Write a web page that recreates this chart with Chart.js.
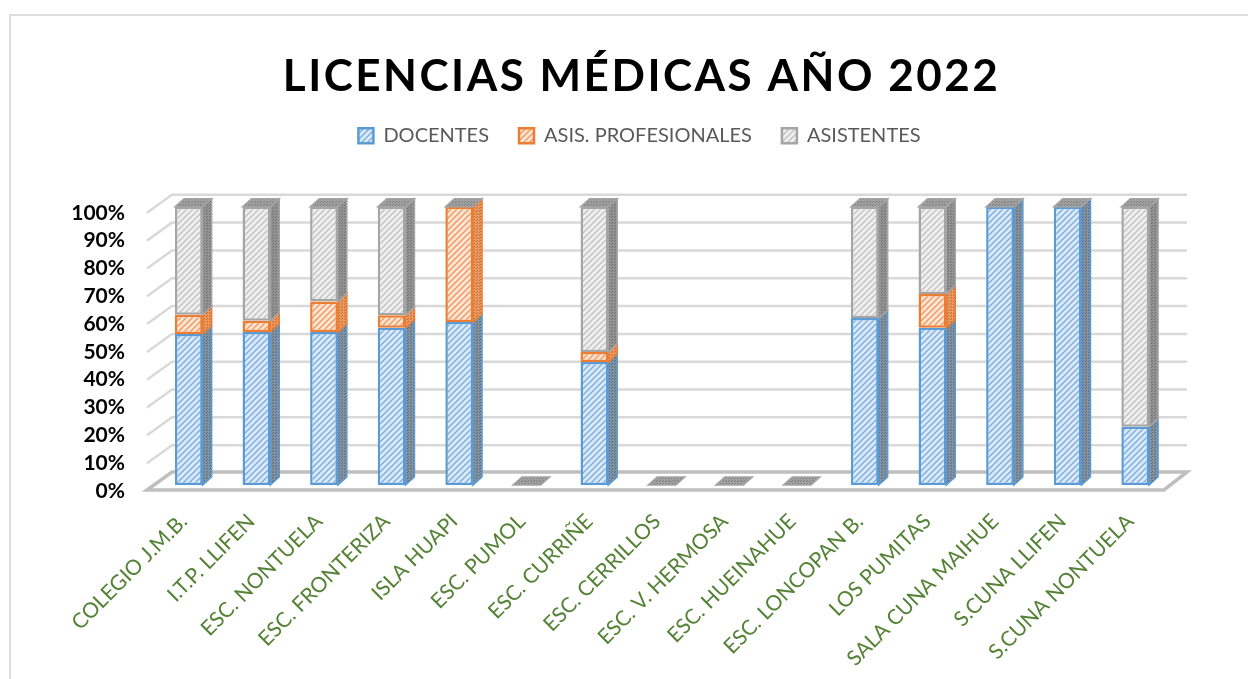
<!DOCTYPE html>
<html>
<head>
<meta charset="utf-8">
<title>Licencias médicas</title>
<script src="https://cdn.jsdelivr.net/npm/chart.js@4"></script>
<style>
  html, body { margin: 0; background: #fff; overflow: hidden; }
  #wrap { position: relative; width: 1248px; height: 679px; }
  #frame { position: absolute; left: 9px; top: 14px; width: 1300px; height: 700px; border: 2px solid #dedede; }
  canvas { position: absolute; left: 0; top: 0; }
</style>
</head>
<body>
<div id="wrap">
  <div id="frame"></div>
  <canvas id="licChart" width="1248" height="679"></canvas>
</div>
<script>
const categories = ["COLEGIO J.M.B.", "I.T.P. LLIFEN", "ESC. NONTUELA", "ESC. FRONTERIZA", "ISLA HUAPI", "ESC. PUMOL", "ESC. CURRIÑE", "ESC. CERRILLOS", "ESC. V. HERMOSA", "ESC. HUEINAHUE", "ESC. LONCOPAN B.", "LOS PUMITAS", "SALA CUNA MAIHUE", "S.CUNA LLIFEN", "S.CUNA NONTUELA"];
const docentes = [54.3, 55, 55, 56.5, 58.6, 0, 44.2, 0, 0, 0, 60, 56.5, 100, 100, 20.9];
const profesionales = [6.9, 4, 11, 4.5, 41.4, 0, 3.6, 0, 0, 0, 0, 12.2, 0, 0, 0];
const asistentes = [38.8, 41, 34, 39, 0, 0, 52.2, 0, 0, 0, 40, 31.3, 0, 0, 79.1];
const tickValues = [0, 10, 20, 30, 40, 50, 60, 70, 80, 90, 100];

const BLUE = "#5b9bd5", ORANGE = "#ed7d31", GREY = "#a5a5a5";
const DEPTH_X = 9, DEPTH_Y = 8;

// wide upward diagonal hatch, like the office pattern fills
function hatch(fg, bg) {
    const c = document.createElement("canvas");
    c.width = c.height = 6;
    const g = c.getContext("2d");
    g.fillStyle = bg;
    g.fillRect(0, 0, 6, 6);
    g.strokeStyle = fg;
    g.lineWidth = 1.5;
    [[-1, 1, 1, -1], [-1, 7, 7, -1], [5, 7, 7, 5]].forEach(function(l) {
        g.beginPath();
        g.moveTo(l[0], l[1]);
        g.lineTo(l[2], l[3]);
        g.stroke();
    });
    return g.createPattern(c, "repeat");
}

// dark dotted fill for the side and top faces
function dots(fg, bg) {
    const c = document.createElement("canvas");
    c.width = c.height = 3;
    const g = c.getContext("2d");
    g.fillStyle = bg;
    g.fillRect(0, 0, 3, 3);
    g.fillStyle = fg;
    g.fillRect(0, 0, 1, 1);
    g.fillRect(2, 1, 1, 1);
    return g.createPattern(c, "repeat");
}

const sideFills = [dots("#566a7e", "#84939f"), dots("#c2672a", "#eb9a63"), dots("#6f6f6f", "#949494")];
const capFill = dots("#7d7d7d", "#a0a0a0");

function face(ctx, pts, fill, stroke) {
    ctx.beginPath();
    pts.forEach(function(p, i) {
        if (i === 0) ctx.moveTo(p[0], p[1]);
        else ctx.lineTo(p[0], p[1]);
    });
    ctx.closePath();
    ctx.fillStyle = fill;
    ctx.fill();
    ctx.lineWidth = 1.5;
    ctx.strokeStyle = stroke;
    ctx.stroke();
}

// back wall, floor and slanted gridlines
const wallPlugin = {
    id: "wall",
    beforeDatasetsDraw(chart) {
        const ctx = chart.ctx;
        const y = chart.scales.y, a = chart.chartArea;
        const l0 = a.left - 8, l1 = a.left + 17, r1 = a.right + 18;
        ctx.save();
        tickValues.forEach(function(v) {
            if (v === 0) return;
            const p = y.getPixelForValue(v);
            ctx.strokeStyle = "#d9d9d9";
            ctx.lineWidth = 2.5;
            ctx.beginPath();
            ctx.moveTo(l0, p + 6);
            ctx.lineTo(l1, p - 12);
            ctx.lineTo(r1, p - 12);
            ctx.stroke();
        });
        const p0 = y.getPixelForValue(0);
        ctx.strokeStyle = "#bfbfbf";
        ctx.lineWidth = 3.5;
        ctx.lineJoin = "miter";
        ctx.beginPath();
        ctx.moveTo(l0, p0 + 5);
        ctx.lineTo(l1, p0 - 13);
        ctx.lineTo(r1, p0 - 13);
        ctx.lineTo(r1 - 23, p0 + 5);
        ctx.closePath();
        ctx.stroke();
        ctx.restore();
    },
    afterDatasetsDraw(chart) {
        const ctx = chart.ctx;
        ctx.save();
        chart.data.labels.forEach(function(_, i) {
            let last = null;
            chart.data.datasets.forEach(function(ds, d) {
                const bar = chart.getDatasetMeta(d).data[i];
                const r = bar.x + bar.width / 2;
                if (ds.data[i] > 0) {
                    face(ctx, [[r, bar.y], [r + DEPTH_X, bar.y - DEPTH_Y], [r + DEPTH_X, bar.base - DEPTH_Y], [r, bar.base]], sideFills[d], ds.borderColor);
                }
                last = bar;
            });
            // top cap always sits on the stack, also for empty schools
            const l = last.x - last.width / 2, r = last.x + last.width / 2;
            const t = last.y;
            face(ctx, [[l, t], [l + DEPTH_X, t - DEPTH_Y], [r + DEPTH_X, t - DEPTH_Y], [r, t]], capFill, GREY);
        });
        ctx.restore();
    },
    afterLayout(chart) {
        const t = chart.titleBlock, lg = chart.legend;
        // title and legend are centred on the whole page, not the plot
        t.left = 0;
        t.right = chart.width + 35;
        lg.left = 0;
        lg.right = chart.width + 31;
        lg.top -= 51;
        // title letter spacing only
        if (t._spaced) return;
        t._spaced = true;
        const d = t.draw;
        t.draw = function() {
            chart.ctx.letterSpacing = "2.5px";
            d.call(t);
            chart.ctx.letterSpacing = "0px";
        };
    }
};

new Chart(document.getElementById("licChart"), {
    type: "bar",
    plugins: [wallPlugin],
    data: {
        labels: categories,
        datasets: [
            { label: "DOCENTES", data: docentes, backgroundColor: hatch("#7db0e0", "#dde9f6"), borderColor: BLUE, borderWidth: 2.5, borderSkipped: false },
            { label: "ASIS. PROFESIONALES", data: profesionales, backgroundColor: hatch("#f29a62", "#fde6d6"), borderColor: ORANGE, borderWidth: 2.5, borderSkipped: false },
            { label: "ASISTENTES", data: asistentes, backgroundColor: hatch("#c4c4c4", "#efefef"), borderColor: GREY, borderWidth: 2.5, borderSkipped: false }
        ]
    },
    options: {
        responsive: false,
        animation: false,
        barPercentage: 0.41,
        categoryPercentage: 1,
        layout: { padding: { left: 0, right: 79, top: 42, bottom: 0 } },
        plugins: {
            title: {
                display: true,
                text: "LICENCIAS MÉDICAS AÑO 2022",
                color: "#000000",
                font: { family: "Lato", size: 44, weight: "bold" },
                padding: { top: 8, bottom: 44 }
            },
            legend: {
                position: "top",
                labels: {
                    color: "#595959",
                    font: { family: "Lato", size: 20 },
                    boxWidth: 15,
                    boxHeight: 15,
                    padding: 30
                }
            },
            tooltip: { enabled: false }
        },
        scales: {
            x: {
                stacked: true,
                grid: { display: false },
                border: { display: false },
                afterFit(s) { s.height = 194; },
                ticks: {
                    autoSkip: false,
                    minRotation: 45,
                    maxRotation: 45,
                    padding: 16,
                    labelOffset: -5,
                    color: "#548235",
                    font: { family: "Lato", size: 21 }
                }
            },
            y: {
                stacked: true,
                min: 0,
                max: 100,
                grid: { display: false },
                border: { display: false },
                afterFit(s) { s.width = 155; },
                afterBuildTicks(s) { s.ticks = tickValues.map(function(v) { return { value: v }; }); },
                ticks: {
                    autoSkip: false,
                    padding: 22,
                    labelOffset: 6,
                    color: "#000000",
                    font: { family: "Lato", size: 21, weight: "bold" },
                    callback: function(v) { return v + "%"; }
                }
            }
        }
    }
});
</script>
</body>
</html>
